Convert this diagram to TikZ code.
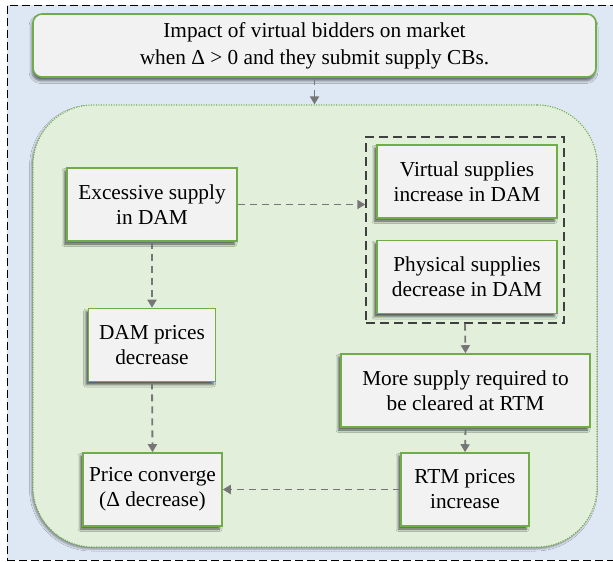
\documentclass[tikz,border=0pt]{standalone}
\usepackage{fontspec}
\newfontfamily\boxface{Liberation Serif}
\usetikzlibrary{arrows.meta,shadows.blur}

\definecolor{panelblue}{HTML}{DEE8F4}
\definecolor{regiongreen}{HTML}{E2EFDA}
\definecolor{boxgreen}{HTML}{70AD47}
\definecolor{boxfill}{HTML}{F2F2F2}
\definecolor{flowgray}{HTML}{767676}
\definecolor{groupgray}{HTML}{3F3F3F}

\tikzset{
  txt/.style={font=\boxface\fontsize{21.3}{25}\selectfont, align=center},
  stepbox/.style={txt, draw=boxgreen, line width=1.6pt, fill=boxfill,
    rectangle, inner sep=2pt, minimum height=73pt,
    blur shadow={shadow xshift=-2.5pt, shadow yshift=-3pt,
      shadow blur radius=2.5pt, shadow opacity=65}},
  flow/.style={draw=flowgray, line width=1.8pt, dash pattern=on 7pt off 5pt,
    -{Triangle[length=8pt,width=9pt]}},
}

\begin{document}
\begin{tikzpicture}[x=1pt,y=-1pt]
  \useasboundingbox (0,0) rectangle (613,562);
  \clip (0,0) rectangle (613,562);

  % outer panel
  \node[draw=black, dash pattern=on 8pt off 4pt, line width=1pt, fill=panelblue,
        rectangle, minimum width=610pt, minimum height=555pt, inner sep=0pt]
        (panel) at (312,282.5) {};

  % title
  \node[txt, draw=boxgreen, line width=1.6pt, fill=boxfill, rounded corners=9pt,
        minimum width=563pt, minimum height=63pt, inner sep=0pt,
        font=\boxface\fontsize{21.3}{27}\selectfont,
        blur shadow={shadow xshift=-1pt, shadow yshift=-3.5pt,
          shadow blur radius=3pt, shadow opacity=60}]
        (title) at (314.5,45.5)
        {Impact of virtual bidders on market\\when Δ > 0 and they submit supply CBs.};

  % green region
  \node[draw=boxgreen, dash pattern=on 1pt off 1.5pt, line width=1.2pt, fill=regiongreen,
        rounded corners=60pt, rectangle, minimum width=564pt, minimum height=442pt,
        inner sep=0pt,
        blur shadow={shadow xshift=-1.5pt, shadow yshift=-2pt,
          shadow blur radius=2pt, shadow opacity=40}]
        (region) at (315,326) {};

  % left column
  \node[stepbox, minimum width=170pt] (exc) at (152,204.5) {Excessive supply\\in DAM};
  \node[stepbox, minimum width=127pt] (damp) at (152,345) {DAM prices\\decrease};
  \node[stepbox, minimum width=139pt] (conv) at (152.5,489.5) {Price converge\\(Δ decrease)};

  % right column
  \node[draw=groupgray, dash pattern=on 9pt off 5pt, line width=1.4pt, rectangle,
        minimum width=198pt, minimum height=186pt, inner sep=0pt]
        (grp) at (465,230) {};
  \node[stepbox, minimum width=180pt] (virt) at (467,181.5) {Virtual supplies\\increase in DAM};
  \node[stepbox, minimum width=180pt] (phys) at (467,277) {Physical supplies\\decrease in DAM};
  \node[stepbox, minimum width=249pt] (more) at (465.5,390.5) {More supply required to\\be cleared at RTM};
  \node[stepbox, minimum width=128pt] (rtmp) at (465,489.5) {RTM prices\\increase};

  % connectors
  \draw[flow] (title.south) -- (title.south |- region.north);
  \draw[flow] (exc.east) -- (exc.east -| grp.west);
  \draw[flow] (exc.south) -- (damp.north);
  \draw[flow] (damp.south) -- (conv.north);
  \draw[flow] (grp.south) -- (more.north);
  \draw[flow] (more.south) -- (rtmp.north);
  \draw[flow] (rtmp.west) -- (conv.east);
\end{tikzpicture}
\end{document}
